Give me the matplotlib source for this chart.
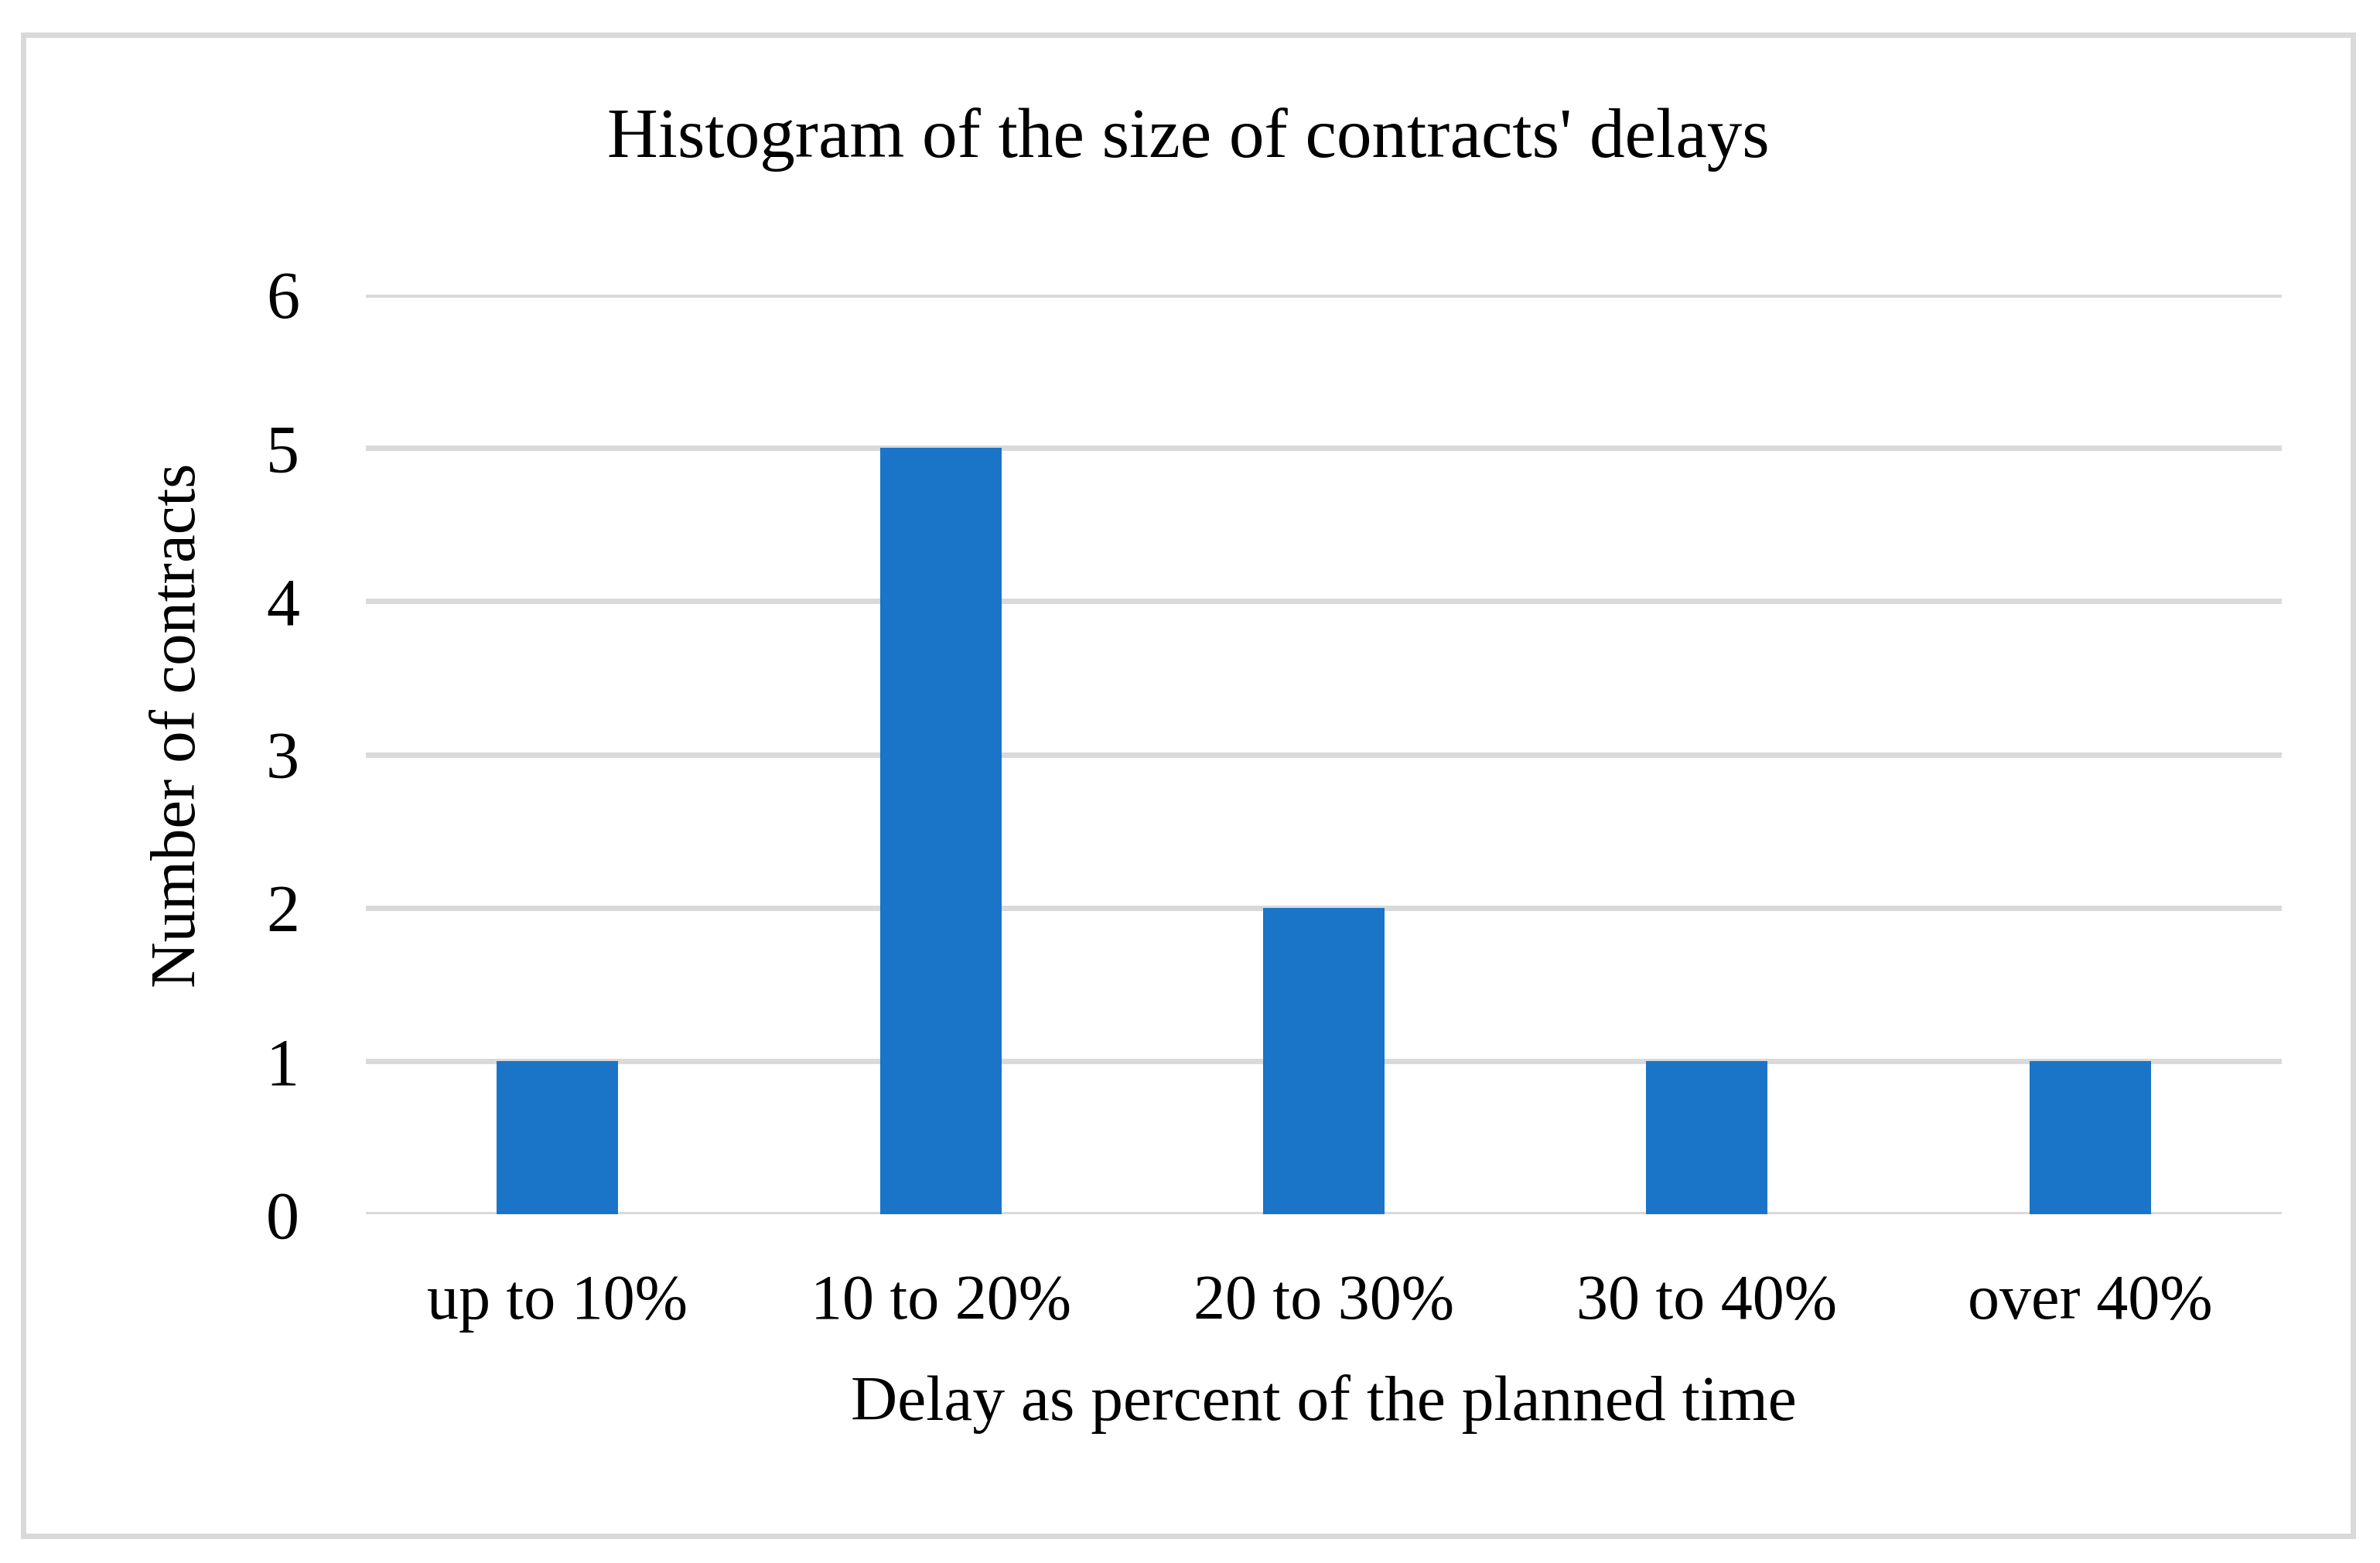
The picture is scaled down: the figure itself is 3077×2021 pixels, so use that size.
import matplotlib.pyplot as plt
from matplotlib.patches import Rectangle

categories = ["up to 10%", "10 to 20%", "20 to 30%", "30 to 40%", "over 40%"]
counts = [1, 5, 2, 1, 1]
yticks = [0, 1, 2, 3, 4, 5, 6]

plt.rcParams['font.family'] = ['Liberation Serif', 'DejaVu Serif']

W, H = 3077, 2021
fig = plt.figure(figsize=(W / 100, H / 100), dpi=100)
ax = fig.add_axes([473 / W, 1 - 1570 / H, (2950 - 473) / W, (1570 - 381) / H])

x = list(range(len(categories)))
ax.bar(x, counts, width=0.317, color='#1A74C7', zorder=3)

ax.set_xlim(-0.5, len(categories) - 0.5)
ax.set_ylim(0, 6)
ax.set_yticks(yticks)
ax.set_xticks(x)
ax.set_xticklabels(categories)
ax.grid(axis='y', color='#D9D9D9', linewidth=5, zorder=0)
ax.set_axisbelow(True)
for s in ax.spines.values():
    s.set_visible(False)
ax.tick_params(axis='y', length=0, labelsize=62, pad=62)
ax.tick_params(axis='x', length=0, labelsize=59, pad=56)

fig.text(1536 / W, 1 - 180 / H, "Histogram of the size of contracts' delays",
         ha='center', va='center', fontsize=65.5)
fig.text(232 / W, 1 - 938 / H, "Number of contracts", rotation=90,
         ha='center', va='center', fontsize=59.5)
fig.text(1711 / W, 1 - 1815 / H, "Delay as percent of the planned time",
         ha='center', va='center', fontsize=60)

# outer chart frame
fig.patches.append(Rectangle((30 / W, 1 - 1986 / H), (3042 - 30) / W, (1986 - 45) / H,
                             transform=fig.transFigure, fill=False,
                             edgecolor='#D9D9D9', linewidth=5))

fig.savefig('out.png', dpi=100, facecolor='white')
